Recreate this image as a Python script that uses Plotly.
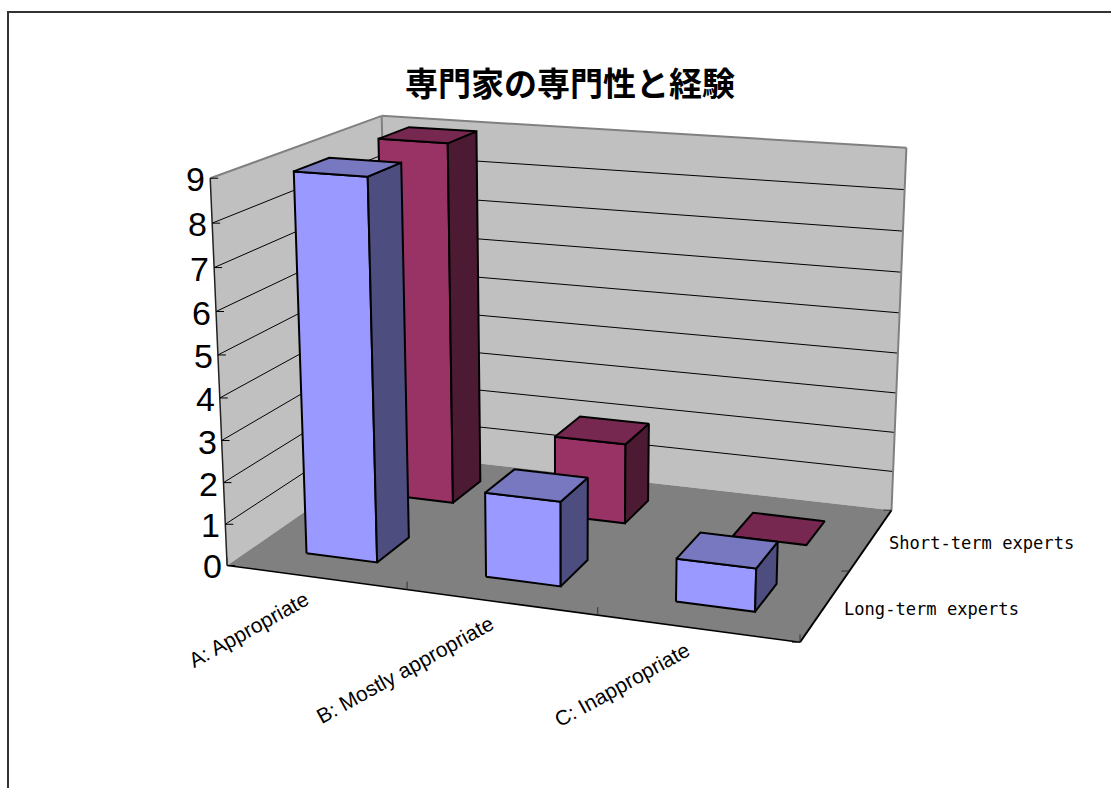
import numpy as np
import plotly.graph_objects as go

# ---- data ----
title = "専門家の専門性と経験"
categories = ["A: Appropriate", "B: Mostly appropriate", "C: Inappropriate"]
series_names = ["Long-term experts", "Short-term experts"]
long_term = [9, 2, 1]
short_term = [9, 2, 0]
value_ticks = [0, 1, 2, 3, 4, 5, 6, 7, 8, 9]

# ---- styles ----
FRONT = ["#9999FF", "#993366"]
TOP = ["#7878C0", "#772850"]
SIDE = ["#4D4D80", "#4D1A33"]
WALL, FLOOR, EDGE = "#C0C0C0", "#808080", "#808080"
BAR_START, BAR_SIZE = 0.3, 0.4   # gap layout inside a category / series slot

# ---- perspective camera of the 3D box: (category, series, value) -> picture plane ----
CAL = [((0, 0, 0), (227, 566)), ((0, 0, 9), (210, 178)),
       ((0, 0, 3), (222, 440)), ((0, 0, 6), (216, 312)),
       ((0, 2, 0), (389, 453)), ((0, 2, 9), (382, 116)),
       ((3, 2, 0), (892, 510)), ((3, 2, 9), (906.5, 147)),
       ((3, 2, 5), (899, 314)),
       ((3, 0, 0), (800, 642))]
A, b = [], []
for (X, Y, Z), (u, v) in CAL:
    A.append([X, Y, Z, 1, 0, 0, 0, 0, -u * X, -u * Y, -u * Z]); b.append(u)
    A.append([0, 0, 0, 0, X, Y, Z, 1, -v * X, -v * Y, -v * Z]); b.append(v)
P = np.append(np.linalg.lstsq(np.array(A, float), np.array(b, float), rcond=None)[0], 1).reshape(3, 4)


def proj(X, Y, Z):
    p = P @ np.array([X, Y, Z, 1.0])
    return p[0] / p[2], p[1] / p[2]


fig = go.Figure()


def poly(points, fill, line="black", width=2):
    pts = [proj(*q) for q in points] + [proj(*points[0])]
    fig.add_trace(go.Scatter(x=[p[0] for p in pts], y=[p[1] for p in pts], mode="lines",
                             fill="toself", fillcolor=fill,
                             line=dict(color=line, width=width), hoverinfo="skip", showlegend=False))


def seg(p, q, color="black", width=1):
    fig.add_trace(go.Scatter(x=[p[0], q[0]], y=[p[1], q[1]], mode="lines",
                             line=dict(color=color, width=width), hoverinfo="skip", showlegend=False))


nx, ny, zmax = len(categories), len(series_names), max(value_ticks)

# walls and floor
poly([(0, 0, 0), (0, ny, 0), (0, ny, zmax), (0, 0, zmax)], WALL, WALL, 0)
poly([(0, ny, 0), (nx, ny, 0), (nx, ny, zmax), (0, ny, zmax)], WALL, WALL, 0)
poly([(0, 0, 0), (nx, 0, 0), (nx, ny, 0), (0, ny, 0)], FLOOR, FLOOR, 0)

# gridlines
for z in value_ticks[1:-1]:
    seg(proj(0, 0, z), proj(0, ny, z))
    seg(proj(0, ny, z), proj(nx, ny, z))

# wall edges
seg(proj(0, 0, zmax), proj(0, ny, zmax), EDGE, 2)
seg(proj(0, ny, zmax), proj(nx, ny, zmax), EDGE, 2)
seg(proj(nx, ny, zmax), proj(nx, ny, 0), EDGE, 2)
seg(proj(0, ny, zmax), proj(0, ny, 0), EDGE, 2)

# axes and ticks
seg(proj(0, 0, 0), proj(0, 0, zmax), "#222222", 1.5)
seg(proj(0, 0, 0), proj(nx, 0, 0), "black", 1.5)
seg(proj(nx, 0, 0), proj(nx, ny, 0), "black", 2)
for z in value_ticks:
    u, v = proj(0, 0, z)
    seg((u, v), (u + 8, v))
for i in range(nx + 1):
    u, v = proj(i, 0, 0)
    seg((u, v), (u, v - 8), "#333333")
for j in range(ny + 1):
    u, v = proj(nx, j, 0)
    seg((u, v), (u - 8, v), "#333333")

# bars, back series first
for s in (1, 0):
    vals = [long_term, short_term][s]
    for i, val in enumerate(vals):
        x0, x1 = i + BAR_START, i + BAR_START + BAR_SIZE
        y0, y1 = s + BAR_START, s + BAR_START + BAR_SIZE
        if val > 0:
            poly([(x0, y0, 0), (x1, y0, 0), (x1, y0, val), (x0, y0, val)], FRONT[s])
            poly([(x1, y0, 0), (x1, y1, 0), (x1, y1, val), (x1, y0, val)], SIDE[s])
        poly([(x0, y0, val), (x1, y0, val), (x1, y1, val), (x0, y1, val)], TOP[s])

# text
ann = []
for z in value_ticks:
    u, v = proj(0, 0, z)
    ann.append(dict(x=u - 3, y=v + 1, text=str(z), xanchor="right", yanchor="middle",
                    font=dict(family="Liberation Sans", size=34, color="black")))
for i, name in enumerate(categories):
    u, v = proj(i + 0.5, 0, 0)
    ann.append(dict(x=u - 1, y=v + 7, text=name, textangle=-29, xanchor="right", yanchor="top",
                    font=dict(family="Liberation Sans", size=21, color="black")))
for j, name in enumerate(series_names):
    u, v = proj(nx, j + 0.5, 0)
    ann.append(dict(x=u + 16, y=v + 3.5, text=name, xanchor="left", yanchor="middle",
                    font=dict(family="DejaVu Sans Mono", size=17.1, color="black")))
for a in ann:
    a.update(showarrow=False, xref="x", yref="y")

fig.update_layout(
    width=1111, height=788, margin=dict(l=0, r=0, t=0, b=0),
    paper_bgcolor="white", plot_bgcolor="white", showlegend=False,
    title=dict(text=title, x=570 / 1111, y=1 - 84 / 788, xanchor="center", yanchor="middle",
               font=dict(family="Noto Sans CJK JP", size=33, color="black", weight="bold")),
    xaxis=dict(range=[0, 1111], visible=False, fixedrange=True),
    yaxis=dict(range=[788, 0], visible=False, fixedrange=True),
    annotations=ann,
    shapes=[dict(type="path", path="M 8 800 L 8 12 L 1120 12", xref="x", yref="y",
                 line=dict(color="#333333", width=2))],
)
fig.write_html("out.html", config={"displayModeBar": False},
               post_script="document.body.style.margin='0';document.documentElement.style.overflow='hidden';")
